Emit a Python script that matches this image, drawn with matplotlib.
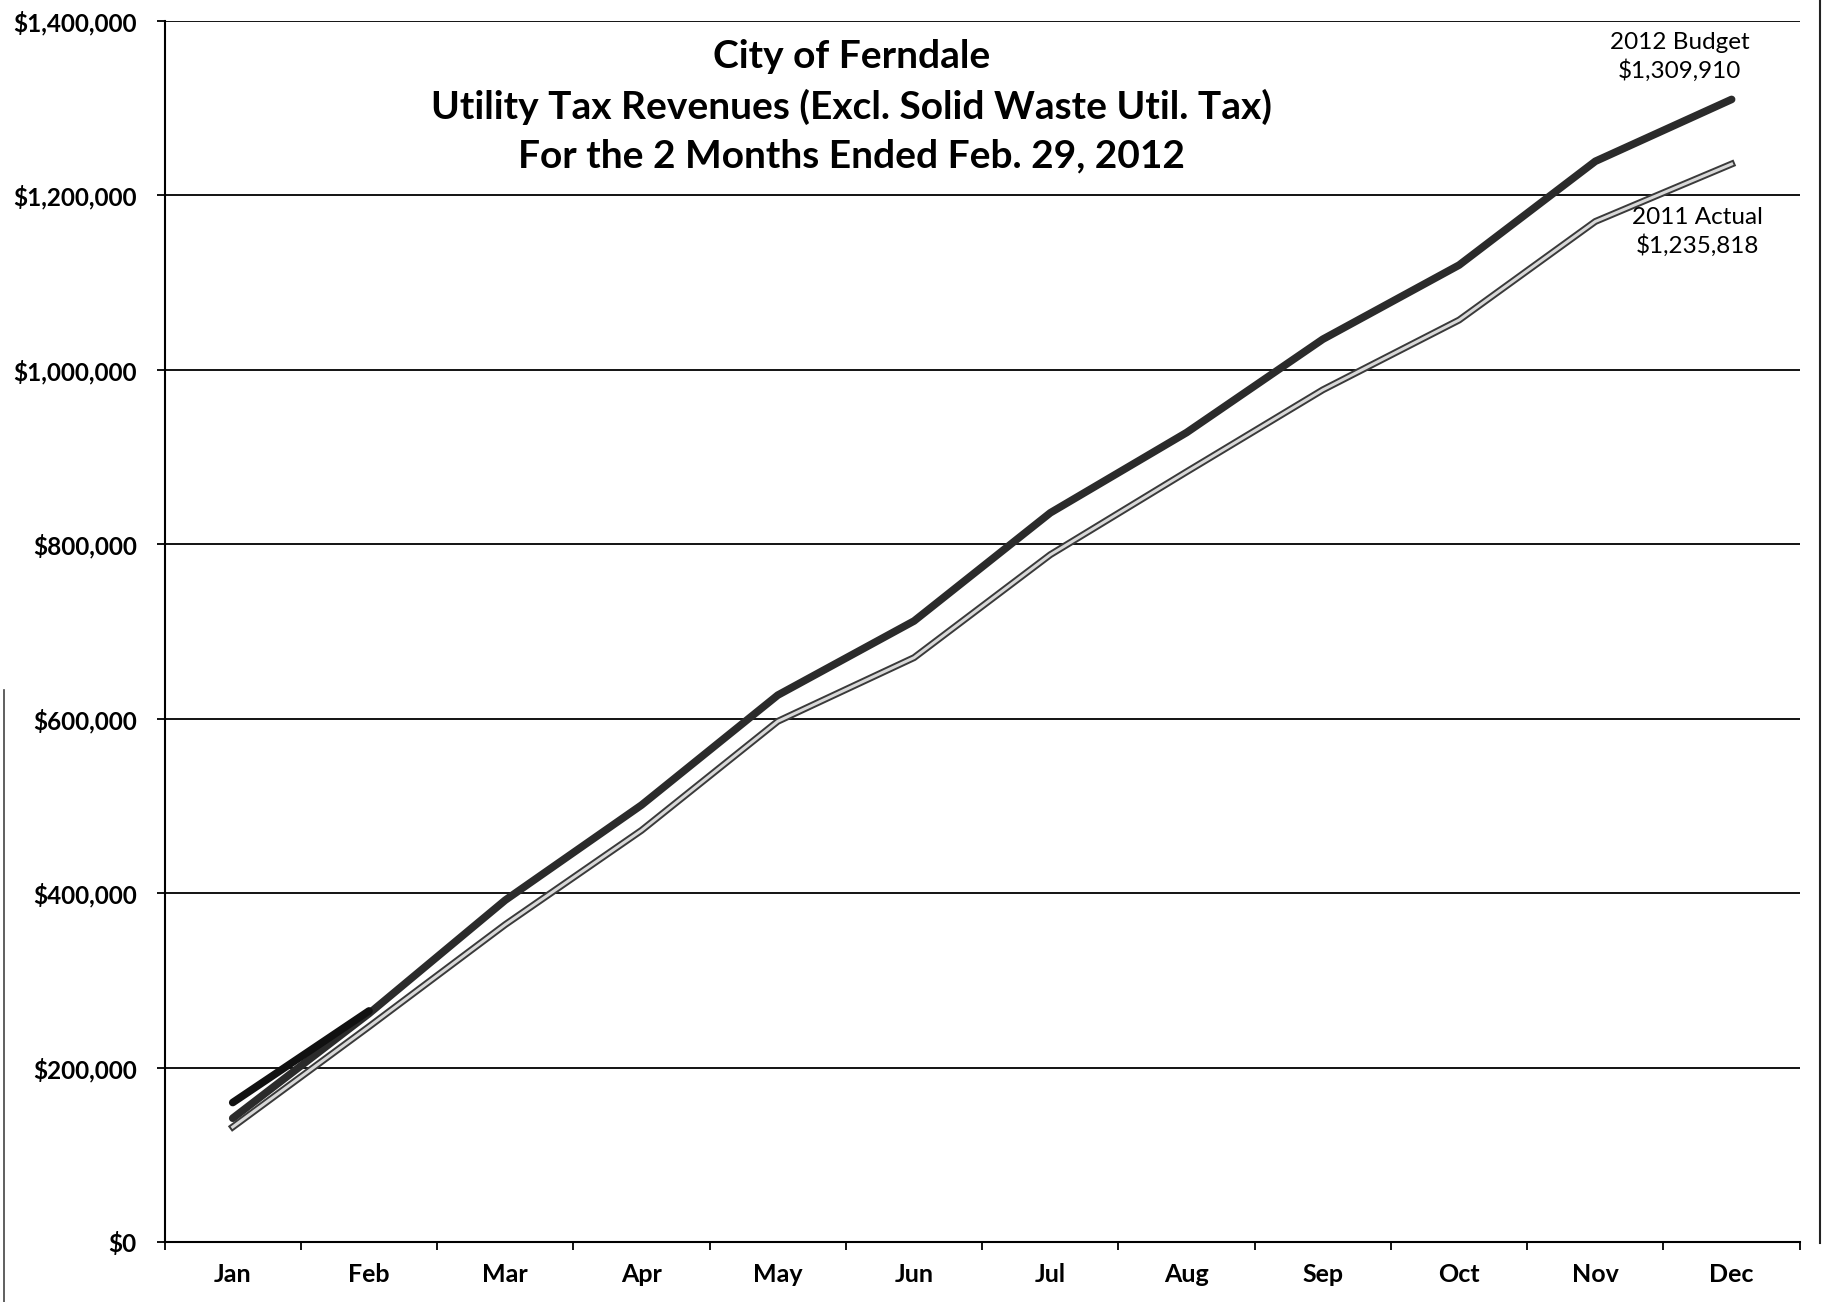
import numpy as np
import matplotlib.pyplot as plt
import matplotlib.patheffects as pe
from matplotlib.ticker import FuncFormatter, MultipleLocator
from matplotlib.lines import Line2D

months = ['Jan', 'Feb', 'Mar', 'Apr', 'May', 'Jun',
          'Jul', 'Aug', 'Sep', 'Oct', 'Nov', 'Dec']

# cumulative utility tax revenue
budget_2012 = [142000, 262000, 392000, 501000, 627000, 712000,
               836000, 928000, 1035000, 1120000, 1239000, 1309910]
actual_2011 = [132000, 247000, 364000, 472000, 597000, 670000,
               788000, 883000, 977000, 1057000, 1170000, 1235818]
actual_2012 = [160000, 265000]

plt.rcParams['font.family'] = ['Lato', 'DejaVu Sans']

fig = plt.figure(figsize=(18.29, 13.02), dpi=100)
ax = fig.add_axes([0.090, 0.046, 0.894, 0.938])

x = np.arange(len(months))

# 2011 actual: light line with a dark outline (as in the scan)
ax.plot(x, actual_2011, color='#d8d8d8', lw=2.2, zorder=3,
        path_effects=[pe.Stroke(linewidth=5, foreground='#3a3a3a'), pe.Normal()])
ax.plot(x, budget_2012, color='#2b2b2b', lw=5.5, zorder=4,
        solid_capstyle='round', solid_joinstyle='round')
ax.plot(x[:len(actual_2012)], actual_2012, color='#111111', lw=5.5, zorder=5,
        solid_capstyle='round')

ax.set_xlim(-0.5, 11.5)
ax.set_ylim(0, 1400000)

ax.yaxis.set_major_locator(MultipleLocator(200000))
ax.yaxis.set_major_formatter(FuncFormatter(lambda v, p: f'${v:,.0f}'))
ax.grid(axis='y', color='black', lw=1.3)
ax.set_axisbelow(True)

ax.set_xticks(x)
ax.set_xticklabels(months)
ax.set_xticks(np.arange(-0.5, 12, 1), minor=True)
ax.tick_params(axis='x', which='major', length=0, pad=15)
ax.tick_params(axis='x', which='minor', length=6, width=1.3, direction='out')
ax.tick_params(axis='y', length=6, width=1.3, pad=14)
for lab in ax.get_yticklabels():
    lab.set_fontsize(17.5)
    lab.set_fontweight('bold')
for lab in ax.get_xticklabels():
    lab.set_fontsize(18)
    lab.set_fontweight('bold')

for side in ['top', 'right']:
    ax.spines[side].set_visible(False)
ax.spines['left'].set_linewidth(1.5)
ax.spines['bottom'].set_linewidth(1.5)

ax.text(0.42, 0.985,
        'City of Ferndale\nUtility Tax Revenues (Excl. Solid Waste Util. Tax)\n'
        'For the 2 Months Ended Feb. 29, 2012',
        transform=ax.transAxes, ha='center', va='top', fontsize=28,
        fontweight='bold', linespacing=1.47)

ax.text(10.62, budget_2012[-1] + 20000, '2012 Budget\n$1,309,910',
        ha='center', va='bottom', fontsize=17.5, linespacing=1.35)
ax.text(10.75, actual_2011[-1] - 49000, '2011 Actual\n$1,235,818',
        ha='center', va='top', fontsize=17.5, linespacing=1.35)

# page edges visible in the scan
fig.add_artist(Line2D([0.002, 0.002], [0.0, 0.47], color='#444444', lw=1.2))
fig.add_artist(Line2D([0.995, 0.995], [0.045, 1.0], color='#222222', lw=1.5))

fig.savefig('out.png', dpi=100, facecolor='white')
